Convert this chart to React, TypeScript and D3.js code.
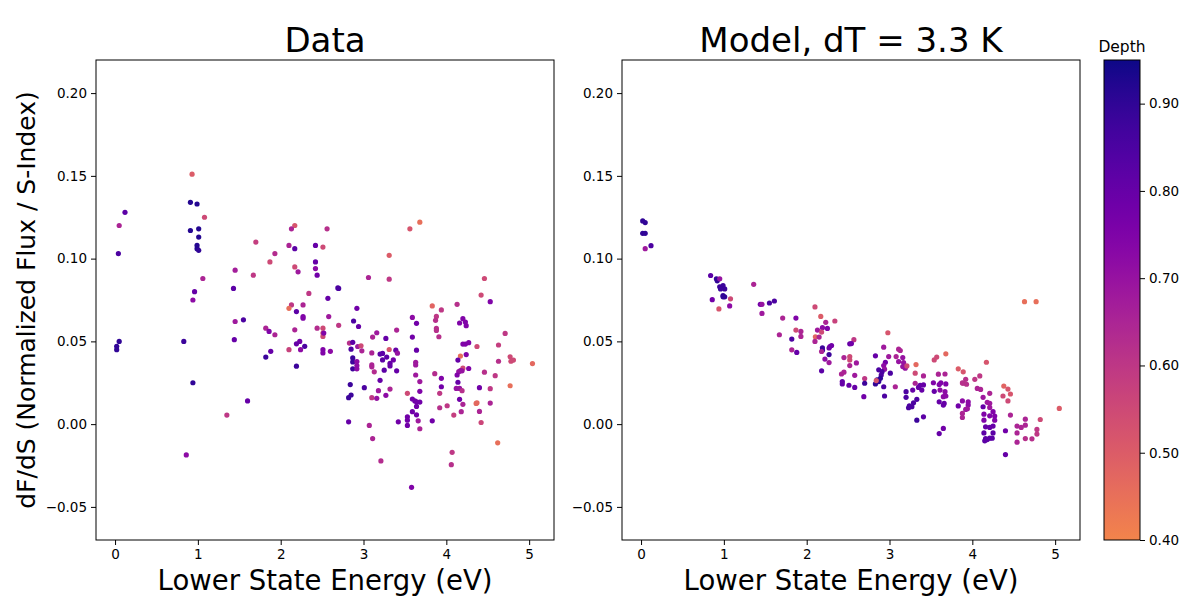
import React, { useEffect, useRef } from 'react';
import * as d3 from 'd3';

// Observed line data: lower state energy (eV), slope dF/dS, line depth
const dataEnergy = [
  0.93, 0.91, 0.99, 0.12, 0.05, 1.08, 0.91, 1.01, 1.01, 0.99, 0.99, 1.01, 0.04, 2.17, 2.13, 2.56, 1.70, 2.10,
  2.17, 2.42, 2.51, 1.93, 1.87, 1.45, 1.67, 2.17, 2.21, 2.42, 2.44, 2.42, 1.06, 0.96, 0.94, 1.43, 2.34, 2.57,
  2.58, 2.13, 2.10, 2.27, 2.19, 2.27, 2.27, 1.45, 1.55, 1.82, 1.86, 1.93, 2.17, 2.44, 2.51, 2.51, 2.51, 2.52,
  0.05, 0.02, 0.02, 0.83, 1.44, 2.23, 2.19, 2.24, 2.29, 2.10, 1.88, 1.82, 2.51, 2.51, 2.60, 2.19, 0.94, 1.60,
  1.35, 0.86, 3.68, 3.56, 3.31, 3.06, 3.31, 2.69, 2.70, 4.46, 4.42, 4.53, 3.83, 3.94, 4.13, 2.92, 2.70, 2.88,
  2.94, 2.83, 2.87, 2.85, 2.93, 2.97, 2.98, 2.87, 2.87, 2.87, 2.92, 2.92, 2.92, 3.11, 3.16, 3.27, 3.40, 3.10,
  3.20, 3.23, 3.31, 3.39, 3.41, 3.28, 3.23, 3.36, 3.32, 3.32, 3.10, 3.10, 3.13, 3.25, 3.40, 3.20, 3.01, 2.84,
  2.85, 2.82, 3.18, 3.32, 3.27, 3.10, 3.16, 2.82, 3.07, 3.11, 3.21, 3.42, 3.59, 3.64, 3.59, 3.64, 3.63, 3.63,
  3.63, 3.68, 3.68, 3.53, 3.59, 3.62, 3.64, 3.68, 3.64, 3.59, 3.64, 3.53, 3.53, 3.53, 3.66, 3.68, 3.83, 3.58,
  3.88, 3.87, 3.88, 3.88, 3.91, 3.86, 3.94, 3.94, 3.92, 3.92, 4.01, 4.09, 4.07, 4.06, 4.20, 4.23, 4.24, 4.16,
  4.20, 4.23, 4.27, 4.24, 4.17, 4.14, 4.20, 4.27, 4.15, 4.17, 4.19, 4.13, 4.14, 4.12, 4.16, 4.19, 4.16, 4.20,
  4.18, 4.37, 4.36, 4.37, 4.40, 4.40, 4.46, 4.53, 4.53, 4.42, 4.63, 4.63, 4.59, 4.71, 4.77, 4.77, 4.78, 4.81,
  5.04, 4.62,
];
const dataSlope = [
  0.151, 0.134, 0.133, 0.128, 0.12, 0.125, 0.117, 0.118, 0.113, 0.108, 0.106, 0.105, 0.103, 0.12, 0.118, 0.118, 0.11, 0.108,
  0.106, 0.108, 0.107, 0.103, 0.098, 0.093, 0.09, 0.095, 0.092, 0.094, 0.09, 0.098, 0.088, 0.08, 0.075, 0.082, 0.079, 0.076,
  0.065, 0.072, 0.07, 0.072, 0.068, 0.065, 0.064, 0.062, 0.063, 0.058, 0.056, 0.054, 0.057, 0.058, 0.058, 0.055, 0.053, 0.055,
  0.05, 0.047, 0.045, 0.05, 0.051, 0.05, 0.0485, 0.045, 0.047, 0.045, 0.044, 0.0405, 0.045, 0.043, 0.044, 0.035, 0.025, 0.014,
  0.0055, -0.0186, 0.122, 0.118, 0.102, 0.0886, 0.0876, 0.0823, 0.082, 0.088, 0.078, 0.074, 0.0714, 0.069, 0.0724, 0.07, 0.0597, 0.0623,
  0.059, 0.049, 0.0494, 0.0453, 0.0469, 0.0473, 0.0443, 0.04, 0.0376, 0.0334, 0.0378, 0.0354, 0.0334, 0.0526, 0.0552, 0.0518, 0.0568, 0.043,
  0.0423, 0.0427, 0.0451, 0.0447, 0.0429, 0.0405, 0.0388, 0.0388, 0.0368, 0.0352, 0.0358, 0.0346, 0.0316, 0.0326, 0.0322, 0.0265, 0.022, 0.0239,
  0.0176, 0.016, 0.0202, 0.0212, 0.0174, 0.016, 0.0156, 0.0014, -0.0008, -0.0087, -0.0222, 0.0014, 0.0645, 0.0609, 0.0526, 0.0447, 0.0374, 0.0358,
  0.0297, 0.0257, 0.0198, 0.0186, 0.0152, 0.014, 0.0135, 0.0133, 0.0107, 0.0075, 0.0056, 0.0044, 0.0024, -0.0008, 0.002, -0.0028, 0.002, -0.0382,
  0.0651, 0.0627, 0.0578, 0.0566, 0.0528, 0.0305, 0.0277, 0.0226, 0.0186, 0.0099, 0.0111, 0.0055, -0.017, -0.0245, 0.0637, 0.0617, 0.0595, 0.0611,
  0.0484, 0.0484, 0.0492, 0.042, 0.0411, 0.0387, 0.0338, 0.0336, 0.0317, 0.0323, 0.0322, 0.0297, 0.0253, 0.0216, 0.0216, 0.0202, 0.015, 0.012,
  0.0075, 0.0129, 0.0125, 0.0469, 0.022, 0.0077, 0.0314, 0.0214, 0.0127, 0.001, 0.0478, 0.038, 0.0293, 0.0548, 0.0232, 0.0407, 0.038, 0.0387,
  0.0366, -0.0113,
];
const dataDepth = [
  0.5, 0.92, 0.92, 0.82, 0.65, 0.55, 0.92, 0.92, 0.92, 0.92, 0.92, 0.9, 0.85, 0.52, 0.65, 0.62, 0.58, 0.65,
  0.82, 0.8, 0.55, 0.63, 0.55, 0.67, 0.6, 0.55, 0.68, 0.72, 0.78, 0.8, 0.65, 0.8, 0.72, 0.82, 0.6, 0.8,
  0.68, 0.6, 0.45, 0.65, 0.82, 0.75, 0.75, 0.68, 0.85, 0.65, 0.75, 0.65, 0.65, 0.63, 0.55, 0.55, 0.55, 0.75,
  0.9, 0.9, 0.9, 0.88, 0.8, 0.78, 0.8, 0.72, 0.85, 0.57, 0.8, 0.88, 0.75, 0.75, 0.72, 0.88, 0.9, 0.8,
  0.6, 0.72, 0.45, 0.52, 0.5, 0.65, 0.6, 0.85, 0.85, 0.55, 0.55, 0.75, 0.48, 0.6, 0.62, 0.78, 0.6, 0.85,
  0.8, 0.62, 0.82, 0.85, 0.68, 0.55, 0.65, 0.88, 0.88, 0.88, 0.72, 0.72, 0.72, 0.65, 0.68, 0.8, 0.65, 0.65,
  0.82, 0.82, 0.52, 0.8, 0.7, 0.82, 0.82, 0.78, 0.8, 0.8, 0.65, 0.65, 0.63, 0.82, 0.8, 0.8, 0.85, 0.88,
  0.88, 0.88, 0.68, 0.65, 0.72, 0.6, 0.7, 0.8, 0.65, 0.65, 0.63, 0.78, 0.72, 0.78, 0.78, 0.8, 0.68, 0.68,
  0.68, 0.68, 0.75, 0.55, 0.78, 0.78, 0.78, 0.78, 0.78, 0.78, 0.78, 0.78, 0.78, 0.78, 0.68, 0.65, 0.78, 0.75,
  0.6, 0.62, 0.62, 0.62, 0.62, 0.63, 0.75, 0.78, 0.6, 0.62, 0.6, 0.58, 0.6, 0.62, 0.75, 0.75, 0.75, 0.75,
  0.75, 0.75, 0.75, 0.75, 0.45, 0.8, 0.55, 0.75, 0.7, 0.7, 0.7, 0.75, 0.8, 0.7, 0.7, 0.62, 0.78, 0.65,
  0.65, 0.47, 0.47, 0.55, 0.78, 0.65, 0.62, 0.6, 0.65, 0.56, 0.58, 0.62, 0.6, 0.6, 0.45, 0.55, 0.55, 0.55,
  0.47, 0.45,
];

// Model (dT = 3.3 K) predictions for the same lines
const modelEnergy = [
  0.02, 0.05, 0.02, 0.05, 0.12, 0.05, 0.84, 0.91, 0.92, 0.95, 0.95, 0.99, 1.01, 0.96, 0.99, 1.01, 0.99, 0.86,
  1.08, 0.94, 1.07, 1.36, 1.44, 1.46, 1.55, 1.61, 1.46, 1.71, 1.87, 1.67, 1.87, 1.93, 1.93, 1.82, 1.82, 1.88,
  2.10, 2.17, 2.23, 2.34, 2.19, 2.25, 2.13, 2.18, 2.105, 2.15, 2.10, 2.19, 2.19, 2.28, 2.30, 2.27, 2.18, 2.27,
  2.22, 2.27, 2.18, 2.45, 2.52, 2.52, 2.52, 2.52, 2.42, 2.45, 2.43, 2.43, 2.51, 2.98, 2.57, 2.54, 2.93, 2.60,
  2.58, 2.58, 2.70, 2.70, 2.69, 2.83, 2.95, 2.93, 2.94, 2.87, 2.91, 2.90, 3.01, 2.85, 2.83, 2.87, 2.89, 2.84,
  2.93, 2.94, 3.07, 2.99, 3.08, 3.11, 3.13, 3.11, 3.16, 3.17, 3.19, 3.16, 3.21, 3.32, 3.31, 3.41, 3.31, 3.28,
  3.35, 3.39, 3.41, 3.37, 3.20, 3.20, 3.33, 3.29, 3.27, 3.24, 3.23, 3.41, 3.33, 3.54, 3.57, 3.68, 3.59, 3.67,
  3.53, 3.60, 3.62, 3.68, 3.54, 3.61, 3.65, 3.67, 3.68, 3.60, 3.66, 3.65, 3.65, 3.60, 3.83, 3.83, 4.63, 4.77,
  4.17, 3.89, 3.92, 3.89, 3.93, 3.88, 4.03, 4.09, 4.06, 4.10, 4.21, 4.13, 4.18, 4.21, 3.88, 3.95, 3.95, 3.94,
  3.92, 4.13, 4.21, 3.88, 3.88, 4.14, 4.21, 4.25, 4.27, 4.14, 4.27, 4.16, 4.21, 4.25, 4.14, 4.25, 4.16, 4.18,
  4.21, 4.24, 4.15, 4.40, 4.38, 4.43, 4.46, 4.37, 4.43, 4.46, 4.40, 4.54, 4.59, 4.64, 4.64, 4.54, 4.64, 4.72,
  4.54, 4.78, 4.78, 4.82, 5.05,
];
const modelSlope = [
  0.1228, 0.1218, 0.1153, 0.1153, 0.1078, 0.106, 0.0898, 0.0878, 0.0866, 0.0878, 0.083, 0.0837, 0.0817, 0.0817, 0.0777, 0.0769, 0.0769, 0.0752,
  0.0757, 0.0696, 0.0714, 0.0845, 0.0724, 0.0724, 0.0732, 0.0744, 0.0669, 0.0641, 0.0641, 0.054, 0.0568, 0.056, 0.053, 0.0514, 0.0449, 0.0433,
  0.0708, 0.0651, 0.0615, 0.0623, 0.0583, 0.0578, 0.0568, 0.0556, 0.0528, 0.0526, 0.05, 0.0461, 0.0447, 0.0469, 0.0475, 0.046, 0.0439, 0.042,
  0.0393, 0.0372, 0.0322, 0.0402, 0.0408, 0.0388, 0.0354, 0.0485, 0.0303, 0.0314, 0.0257, 0.0243, 0.0235, 0.0552, 0.051, 0.0487, 0.0465, 0.037,
  0.0295, 0.0222, 0.0275, 0.0247, 0.0166, 0.0413, 0.0374, 0.0354, 0.0332, 0.0328, 0.0317, 0.0297, 0.0308, 0.0267, 0.0243, 0.0257, 0.0277, 0.0263,
  0.0226, 0.017, 0.0226, 0.0408, 0.0408, 0.0453, 0.0445, 0.0378, 0.0402, 0.0372, 0.0338, 0.0348, 0.0352, 0.036, 0.0308, 0.0291, 0.0247, 0.0206,
  0.0222, 0.0206, 0.0237, 0.0235, 0.0196, 0.0162, 0.015, 0.0129, 0.0105, 0.0111, 0.0099, 0.0044, 0.0024, 0.0388, 0.0405, 0.0425, 0.0302, 0.0303,
  0.025, 0.0239, 0.025, 0.0243, 0.0198, 0.0206, 0.0166, 0.0196, 0.017, 0.0135, 0.0125, 0.0115, -0.0026, -0.0057, 0.0334, 0.011, 0.074, 0.074,
  0.0374, 0.0316, 0.0271, 0.0247, 0.0241, 0.0249, 0.0271, 0.0291, 0.0216, 0.021, 0.0186, 0.0162, 0.0132, 0.0126, 0.014, 0.0134, 0.0115, 0.0093,
  0.0089, 0.0105, 0.0101, 0.0065, 0.004, 0.006, 0.005, 0.0075, 0.0049, 0.0024, 0.0024, -0.0016, -0.002, -0.0012, -0.0053, -0.0053, -0.0087, -0.0093,
  -0.0085, -0.0085, -0.0101, -0.0184, 0.023, 0.0212, 0.0182, 0.017, 0.014, 0.0055, -0.004, -0.0012, -0.002, -0.0006, 0.003, -0.0053, -0.0087, -0.0089,
  -0.0109, -0.0032, -0.006, 0.0028, 0.0095,
];
const modelDepth = [
  0.9, 0.9, 0.9, 0.9, 0.85, 0.68, 0.82, 0.9, 0.9, 0.7, 0.88, 0.88, 0.88, 0.88, 0.9, 0.9, 0.9, 0.78,
  0.55, 0.52, 0.72, 0.65, 0.78, 0.7, 0.85, 0.85, 0.68, 0.65, 0.75, 0.65, 0.55, 0.65, 0.65, 0.85, 0.65, 0.8,
  0.55, 0.5, 0.65, 0.57, 0.72, 0.75, 0.68, 0.55, 0.48, 0.65, 0.65, 0.88, 0.88, 0.78, 0.78, 0.78, 0.65, 0.88,
  0.72, 0.68, 0.82, 0.65, 0.55, 0.55, 0.65, 0.8, 0.65, 0.65, 0.8, 0.8, 0.8, 0.52, 0.6, 0.78, 0.68, 0.68,
  0.68, 0.8, 0.6, 0.88, 0.78, 0.8, 0.78, 0.72, 0.7, 0.85, 0.85, 0.85, 0.85, 0.9, 0.9, 0.9, 0.9, 0.52,
  0.85, 0.85, 0.65, 0.68, 0.65, 0.65, 0.65, 0.7, 0.7, 0.7, 0.7, 0.7, 0.55, 0.47, 0.55, 0.65, 0.65, 0.8,
  0.8, 0.8, 0.8, 0.8, 0.85, 0.85, 0.85, 0.85, 0.85, 0.85, 0.85, 0.82, 0.88, 0.55, 0.55, 0.47, 0.65, 0.65,
  0.75, 0.75, 0.75, 0.75, 0.8, 0.72, 0.72, 0.72, 0.72, 0.8, 0.8, 0.8, 0.78, 0.8, 0.5, 0.78, 0.45, 0.45,
  0.52, 0.52, 0.62, 0.62, 0.62, 0.62, 0.6, 0.6, 0.65, 0.65, 0.65, 0.68, 0.68, 0.68, 0.72, 0.72, 0.72, 0.68,
  0.68, 0.8, 0.68, 0.65, 0.65, 0.75, 0.75, 0.75, 0.75, 0.75, 0.75, 0.8, 0.8, 0.8, 0.82, 0.82, 0.82, 0.82,
  0.82, 0.82, 0.82, 0.8, 0.48, 0.52, 0.52, 0.55, 0.55, 0.65, 0.78, 0.65, 0.65, 0.65, 0.65, 0.65, 0.62, 0.62,
  0.65, 0.6, 0.6, 0.55, 0.5,
];

const xTicks = [0, 1, 2, 3, 4, 5];
const yTicks = [-0.05, 0, 0.05, 0.1, 0.15, 0.2];
const depthTicks = [0.4, 0.5, 0.6, 0.7, 0.8, 0.9];

const FONT = 'DejaVu Sans, sans-serif';

const App = () => {
  const svgRef = useRef<SVGSVGElement>(null);

  useEffect(() => {
    const svg = d3.select(svgRef.current);
    svg.selectAll('*').remove();

    const top = 60;
    const bottom = 540;
    const y = d3.scaleLinear().domain([-0.07, 0.22]).range([bottom, top]);

    // depth -> lower part of plasma (0.95 dark, 0.40 orange)
    const depthToT = d3.scaleLinear().domain([0.95, 0.4]).range([0, 0.7]);
    const color = (d) => d3.interpolatePlasma(depthToT(d));

    const panels = [
      { title: 'Data', left: 96, e: dataEnergy, s: dataSlope, d: dataDepth, ylabel: true },
      { title: 'Model, dT = 3.3 K', left: 622, e: modelEnergy, s: modelSlope, d: modelDepth, ylabel: false },
    ];

    panels.forEach((p) => {
      const x = d3.scaleLinear().domain([-0.23, 5.3]).range([p.left, p.left + 458]);
      const g = svg.append('g');

      g.selectAll('circle')
        .data(p.e.map((v, i) => ({ e: v, s: p.s[i], d: p.d[i] })))
        .enter()
        .append('circle')
        .attr('cx', (d) => x(d.e))
        .attr('cy', (d) => y(d.s))
        .attr('r', 2.6)
        .attr('fill', (d) => color(d.d));

      const xAxis = g.append('g')
        .attr('transform', `translate(0,${bottom})`)
        .call(d3.axisBottom(x).tickValues(xTicks).tickFormat(d3.format('d')).tickSize(5).tickPadding(4));
      const yAxis = g.append('g')
        .attr('transform', `translate(${p.left},0)`)
        .call(d3.axisLeft(y).tickValues(yTicks).tickFormat(d3.format('.2f')).tickSize(5).tickPadding(4));
      [xAxis, yAxis].forEach((a) => {
        a.select('.domain').remove();
        a.selectAll('text').attr('font-size', 13.5).attr('font-family', FONT).attr('fill', '#000');
        a.selectAll('line').attr('stroke', '#000');
      });

      g.append('rect')
        .attr('x', p.left)
        .attr('y', top)
        .attr('width', 458)
        .attr('height', bottom - top)
        .attr('fill', 'none')
        .attr('stroke', '#000')
        .attr('stroke-width', 1);

      g.append('text')
        .attr('x', p.left + 229)
        .attr('y', 52)
        .attr('text-anchor', 'middle')
        .attr('font-family', FONT)
        .attr('font-size', 34)
        .text(p.title);

      g.append('text')
        .attr('x', p.left + 229)
        .attr('y', 590)
        .attr('text-anchor', 'middle')
        .attr('font-family', FONT)
        .attr('font-size', 27.5)
        .text('Lower State Energy (eV)');

      if (p.ylabel) {
        g.append('text')
          .attr('transform', `translate(35,${(top + bottom) / 2}) rotate(-90)`)
          .attr('text-anchor', 'middle')
          .attr('font-family', FONT)
          .attr('font-size', 25)
          .text('dF/dS (Normalized Flux / S-Index)');
      }
    });

    // colorbar
    const cbX = 1104;
    const cbW = 36;
    const cbScale = d3.scaleLinear().domain([0.4, 0.95]).range([bottom, top]);
    const grad = svg.append('defs').append('linearGradient')
      .attr('id', 'depthGrad')
      .attr('x1', 0).attr('y1', 1).attr('x2', 0).attr('y2', 0);
    d3.range(0, 1.0001, 0.05).forEach((t) => {
      grad.append('stop')
        .attr('offset', t)
        .attr('stop-color', color(0.4 + t * 0.55));
    });
    svg.append('rect')
      .attr('x', cbX).attr('y', top)
      .attr('width', cbW).attr('height', bottom - top)
      .attr('fill', 'url(#depthGrad)')
      .attr('stroke', '#000')
      .attr('stroke-width', 1);
    const cbAxis = svg.append('g')
      .attr('transform', `translate(${cbX + cbW},0)`)
      .call(d3.axisRight(cbScale).tickValues(depthTicks).tickFormat(d3.format('.2f')).tickSize(5).tickPadding(4));
    cbAxis.select('.domain').remove();
    cbAxis.selectAll('text').attr('font-size', 13.5).attr('font-family', FONT).attr('fill', '#000');
    cbAxis.selectAll('line').attr('stroke', '#000');

    svg.append('text')
      .attr('x', cbX + cbW / 2)
      .attr('y', 52)
      .attr('text-anchor', 'middle')
      .attr('font-family', FONT)
      .attr('font-size', 15.5)
      .text('Depth');
  }, []);

  return (
    <svg
      ref={svgRef}
      width={1200}
      height={600}
      style={{ position: 'absolute', left: 0, top: 0, background: '#fff' }}
    />
  );
};

export default App;
